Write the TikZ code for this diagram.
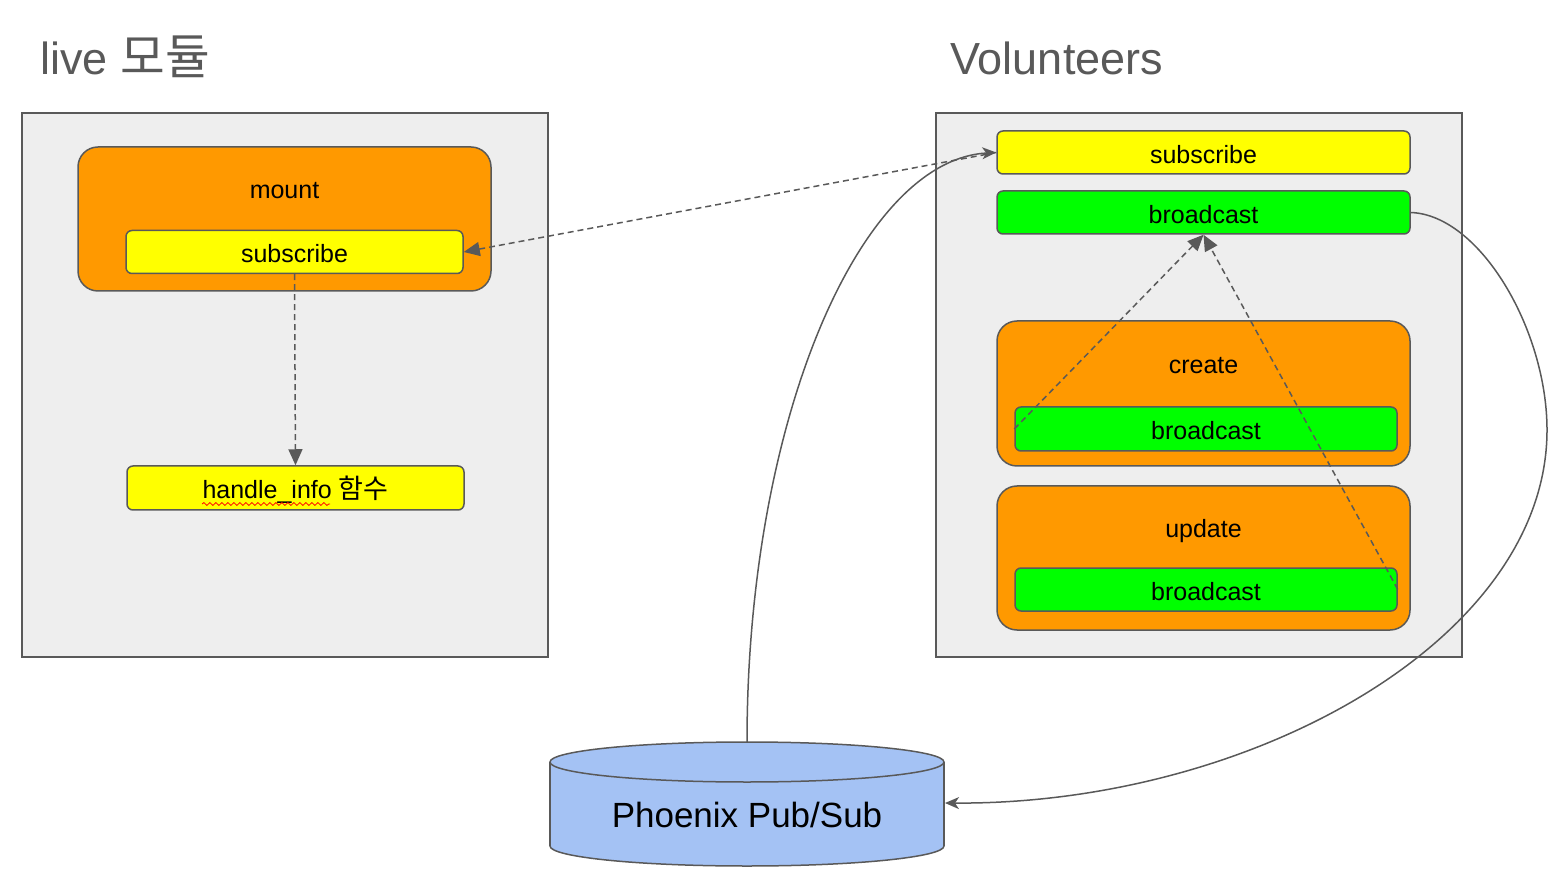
\documentclass[tikz,border=0pt]{standalone}
\usepackage{fontspec}
\setmainfont{Liberation Sans}
\newfontfamily\kr[Scale=1.08]{Noto Sans CJK KR}
\usetikzlibrary{arrows.meta,decorations.pathmorphing}

\definecolor{linegray}{HTML}{595959}
\definecolor{panelgray}{HTML}{EEEEEE}
\definecolor{boxorange}{HTML}{FF9900}
\definecolor{boxyellow}{HTML}{FFFF00}
\definecolor{boxgreen}{HTML}{00FF00}
\definecolor{dbblue}{HTML}{A4C2F4}

\tikzset{
	panel/.style={draw=linegray, fill=panelgray, line width=0.75pt, minimum width=263pt, minimum height=272pt, inner sep=0pt},
	outerbox/.style={draw=linegray, fill=boxorange, line width=0.75pt, rounded corners=10pt, minimum width=206.5pt, inner sep=0pt},
	innerbox/.style={draw=linegray, line width=0.75pt, rounded corners=3pt, minimum height=21.5pt, inner sep=0pt, text height=11pt, text depth=0pt, font=\fontsize{12.5}{15}\selectfont},
	title/.style={text=linegray, anchor=base west, inner sep=0pt, font=\fontsize{22.5}{26}\selectfont},
	boxtext/.style={inner sep=0pt, text height=11pt, text depth=0pt, font=\fontsize{12.5}{15}\selectfont},
	dasharrow/.style={draw=linegray, line width=0.75pt, dash pattern=on 3pt off 2pt, -{Triangle[length=8pt,width=7pt]}},
	curvearrow/.style={draw=linegray, line width=0.75pt, -{Stealth[length=7pt,width=6pt,inset=2pt]}}
}

\begin{document}
\begin{tikzpicture}[x=0.5pt, y=-0.5pt]
	\useasboundingbox (0,0) rectangle (1566,870);

	% titles
	\node[title] (livetitle) at (40,75) {live {\kr 모듈}};
	\node[title] (voltitle) at (950,75) {Volunteers};

	% panels
	\node[panel] (lpanel) at (285,385) {};
	\node[panel] (rpanel) at (1199,385) {};

	% live module
	\node[outerbox, minimum height=72pt] (mount) at (284.5,219) {};
	\node[boxtext] (mounttxt) at (284.5,188) {mount};
	\node[innerbox, fill=boxyellow, minimum width=168.5pt] (lsub) at (294.5,252) {subscribe};
	\node[innerbox, fill=boxyellow, minimum width=168.5pt, minimum height=22pt] (handle) at (295.5,488) {handle\_info {\kr 함수}};
	\draw[red, line width=0.4pt, decorate, decoration={snake, amplitude=0.7pt, segment length=3pt}] (202,504) -- (330,504);

	% volunteers
	\node[innerbox, fill=boxyellow, minimum width=206.5pt] (rsub) at (1203.5,152.5) {subscribe};
	\node[innerbox, fill=boxgreen, minimum width=206.5pt] (rbc) at (1203.5,212.5) {broadcast};

	\node[outerbox, minimum height=72.5pt] (create) at (1203.5,393.5) {};
	\node[boxtext] (createtxt) at (1203.5,363) {create};
	\node[innerbox, fill=boxgreen, minimum width=191pt, minimum height=22pt] (cbc) at (1206,429) {broadcast};

	\node[outerbox, minimum height=72pt] (update) at (1203.5,558) {};
	\node[boxtext] (updatetxt) at (1203.5,527) {update};
	\node[innerbox, fill=boxgreen, minimum width=191pt] (ubc) at (1206,589.5) {broadcast};

	% pub/sub cylinder
	\draw[draw=linegray, fill=dbblue, line width=0.75pt] (747,846) ellipse [x radius=197, y radius=20];
	\fill[dbblue] (550,762) rectangle (944,846);
	\draw[linegray, line width=0.75pt] (550,762) -- (550,846);
	\draw[linegray, line width=0.75pt] (944,762) -- (944,846);
	\draw[draw=linegray, fill=dbblue, line width=0.75pt] (747,762) ellipse [x radius=197, y radius=20];
	\node[inner sep=0pt, font=\fontsize{17.5}{21}\selectfont] (pubsub) at (747,815) {Phoenix Pub/Sub};
	\coordinate (pstop) at (747,742);
	\coordinate (pseast) at (945,803);

	% connectors
	\draw[dasharrow] (rsub.west) -- (lsub.east);
	\draw[dasharrow] (lsub.south) -- (handle.north);
	\draw[dasharrow] (cbc.west) -- (rbc.south);
	\draw[dasharrow] (ubc.east) -- (rbc.south);
	\draw[curvearrow] (pstop) .. controls (747,420) and (860,160) .. (rsub.west);
	\draw[curvearrow] (rbc.east) .. controls (1480,215) and (1547,330) .. (1547,430) .. controls (1547,640) and (1250,805) .. (pseast);
\end{tikzpicture}
\end{document}
